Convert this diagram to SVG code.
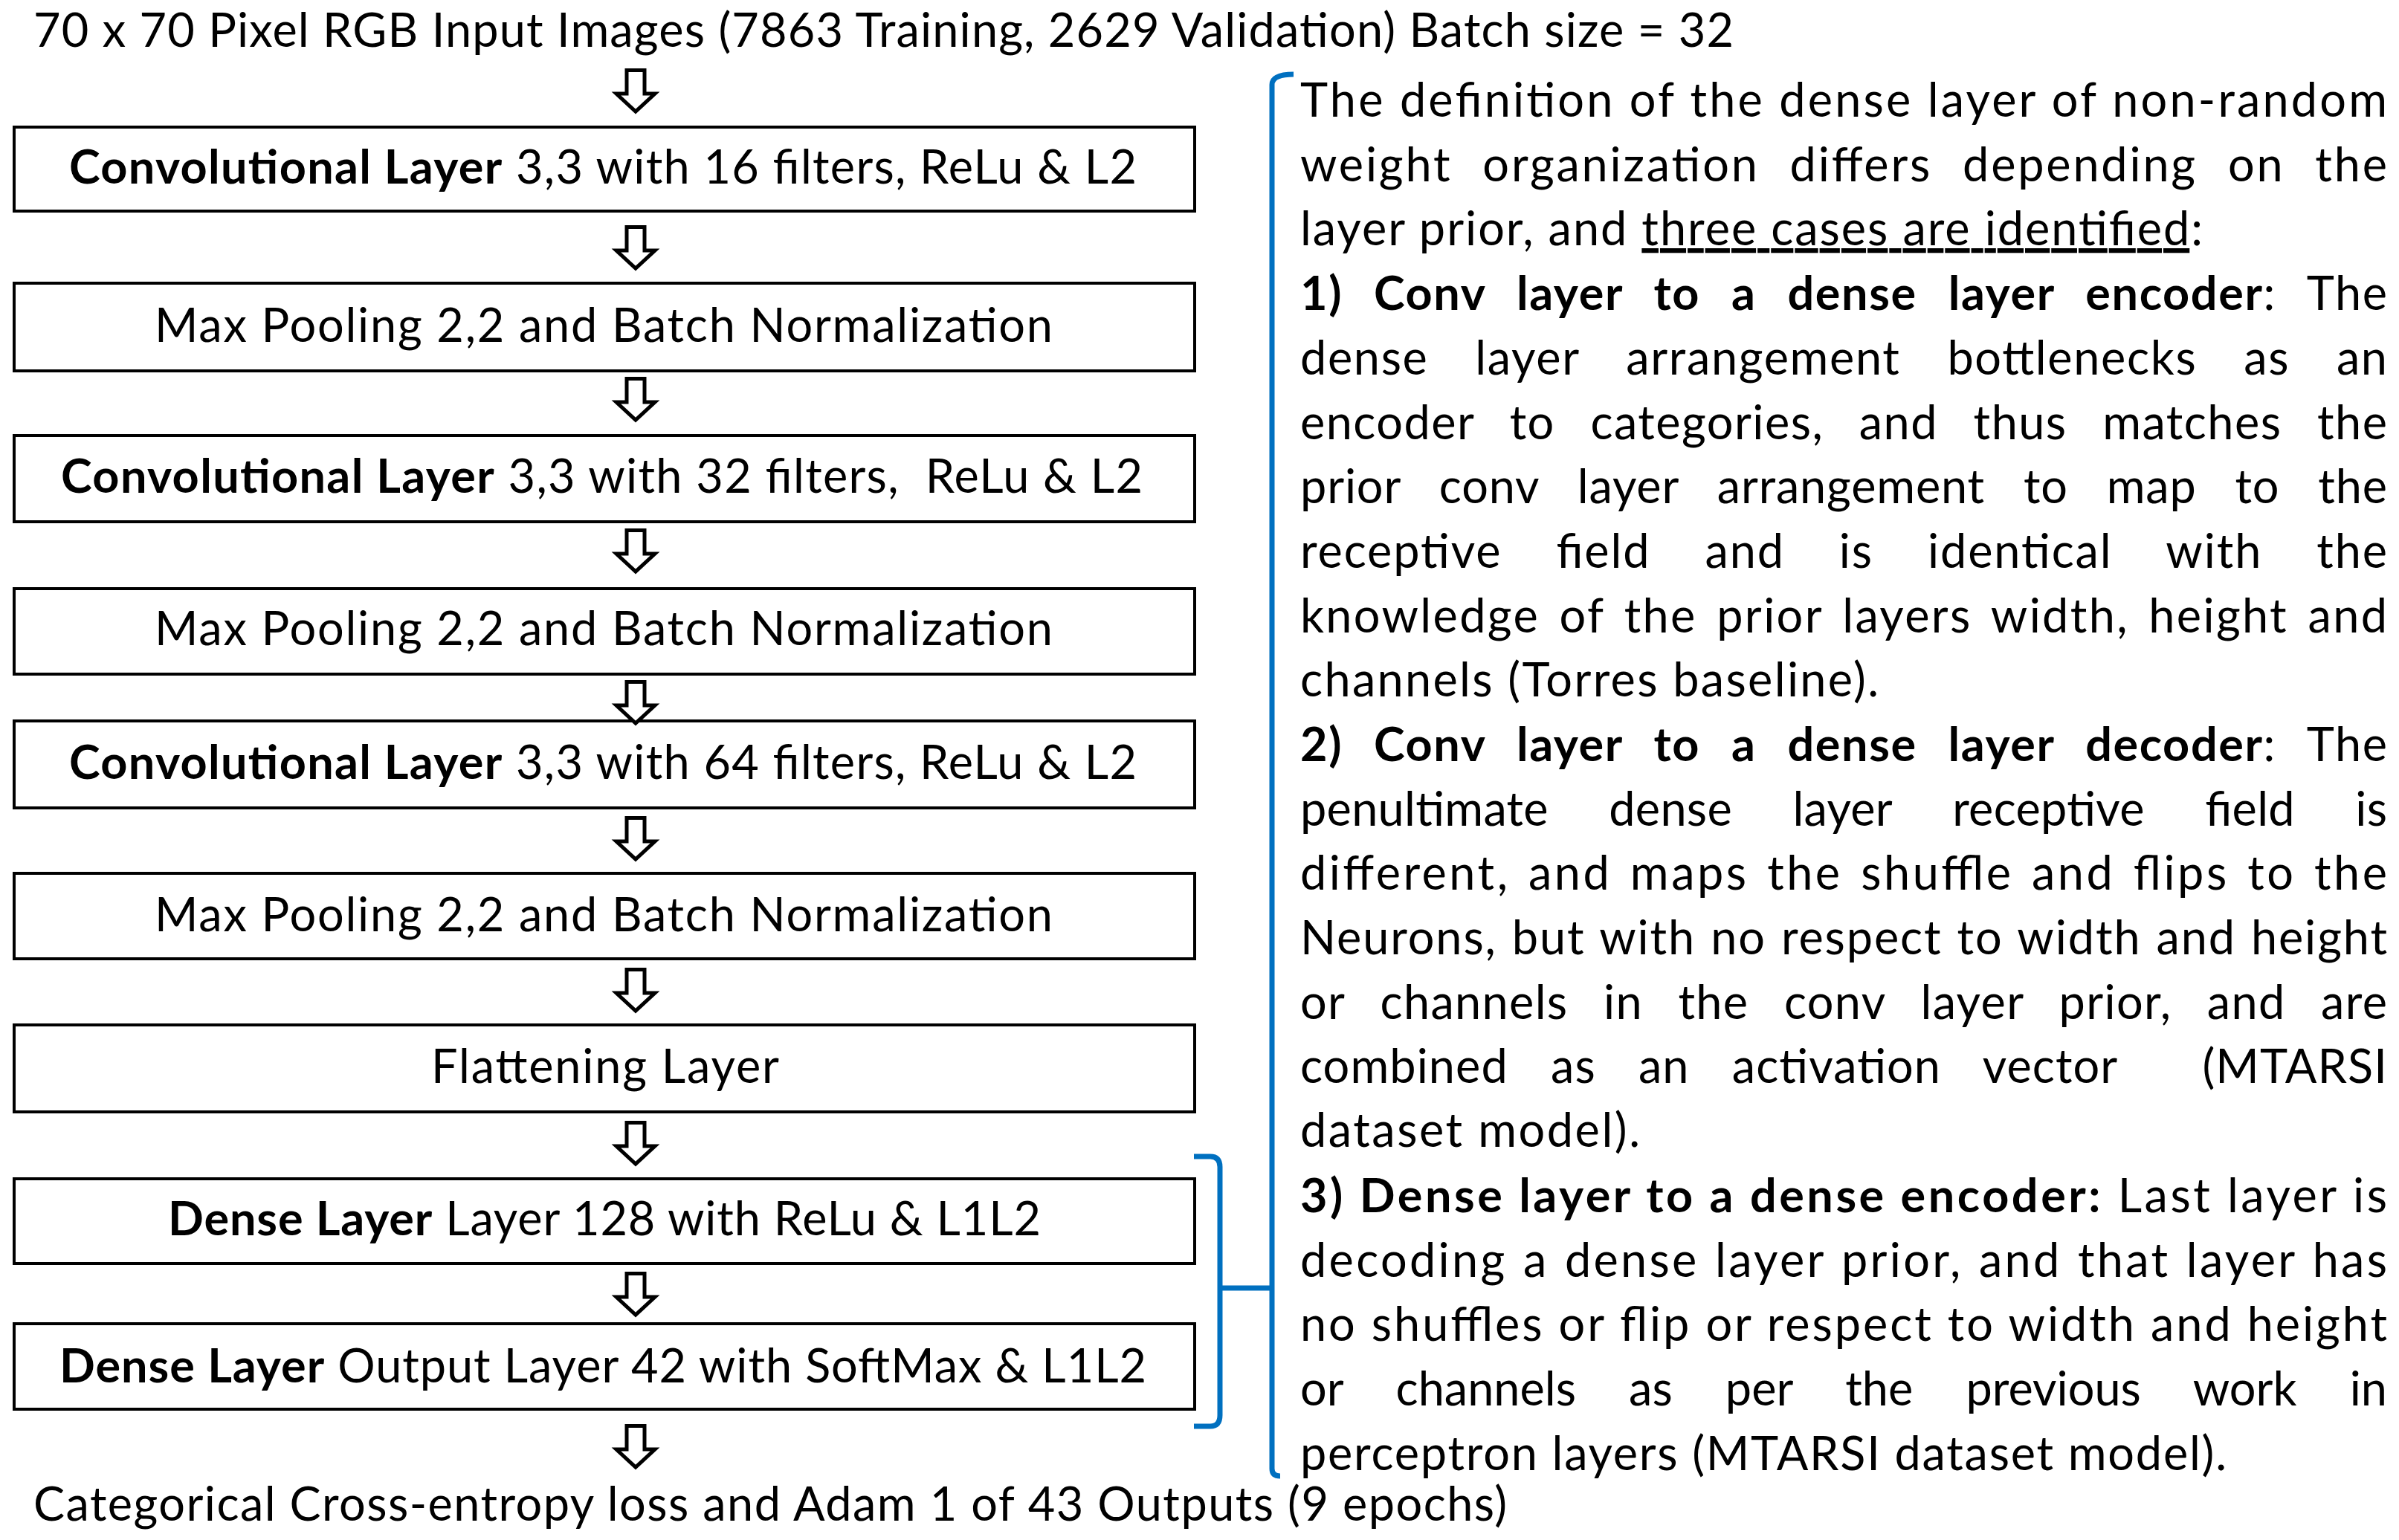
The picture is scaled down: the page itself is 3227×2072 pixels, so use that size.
<svg xmlns="http://www.w3.org/2000/svg" width="3227" height="2072" viewBox="0 0 3227 2072">
<style>
text{font-family:Lato,"Open Sans","DejaVu Sans",sans-serif;font-size:63px;fill:#000;}
.b{font-weight:bold;}
.box{fill:#fff;stroke:#000;stroke-width:4;}
.arr{fill:#fff;stroke:#000;stroke-width:5;stroke-linejoin:miter;}
.br{fill:none;stroke:#0070C0;stroke-width:7;stroke-linecap:butt;stroke-linejoin:round;}
.u{text-decoration:underline;}
</style>
<defs>
<path id="arrow" class="arr" d="M-12,2.5 H12 V34 H26 L0,58 L-26,34 H-12 Z"/>
</defs>
<rect width="3227" height="2072" fill="#fff"/>

<g id="title"><text x="45" y="63" textLength="2287" lengthAdjust="spacing">70 x 70 Pixel RGB Input Images (7863 Training, 2629 Validation) Batch size = 32</text></g>

<g id="n1"><rect class="box" x="19" y="171" width="1588" height="113"/><text x="93" y="247" textLength="1436" lengthAdjust="spacing"><tspan class="b">Convolutional Layer</tspan> 3,3 with 16 filters, ReLu &amp; L2</text></g>
<g id="n2"><rect class="box" x="19" y="381" width="1588" height="118"/><text x="208" y="460" textLength="1208" lengthAdjust="spacing">Max Pooling 2,2 and Batch Normalization</text></g>
<g id="n3"><rect class="box" x="19" y="586" width="1588" height="116"/><text x="82" y="663" textLength="1455" lengthAdjust="spacing" style="white-space:pre"><tspan class="b">Convolutional Layer</tspan> 3,3 with 32 filters,  ReLu &amp; L2</text></g>
<g id="n4"><rect class="box" x="19" y="792" width="1588" height="115"/><text x="208" y="868" textLength="1208" lengthAdjust="spacing">Max Pooling 2,2 and Batch Normalization</text></g>
<g id="n5"><rect class="box" x="19" y="970" width="1588" height="117"/><text x="93" y="1048" textLength="1436" lengthAdjust="spacing"><tspan class="b">Convolutional Layer</tspan> 3,3 with 64 filters, ReLu &amp; L2</text></g>
<g id="n6"><rect class="box" x="19" y="1175" width="1588" height="115"/><text x="208" y="1253" textLength="1208" lengthAdjust="spacing">Max Pooling 2,2 and Batch Normalization</text></g>
<g id="n7"><rect class="box" x="19" y="1379" width="1588" height="117"/><text x="580" y="1457" textLength="468" lengthAdjust="spacing">Flattening Layer</text></g>
<g id="n8"><rect class="box" x="19" y="1586" width="1588" height="114"/><text x="226" y="1662" textLength="1174" lengthAdjust="spacing"><tspan class="b">Dense Layer</tspan> Layer 128 with ReLu &amp; L1L2</text></g>
<g id="n9"><rect class="box" x="19" y="1781" width="1588" height="115"/><text x="80" y="1860" textLength="1462" lengthAdjust="spacing"><tspan class="b">Dense Layer</tspan> Output Layer 42 with SoftMax &amp; L1L2</text></g>

<g id="output"><text x="45" y="2046" textLength="1982" lengthAdjust="spacing">Categorical Cross-entropy loss and Adam 1 of 43 Outputs (9 epochs)</text></g>

<g id="connectors">
<use href="#arrow" x="855" y="92"/>
<use href="#arrow" x="855" y="303"/>
<use href="#arrow" x="855" y="507"/>
<use href="#arrow" x="855" y="711"/>
<use href="#arrow" x="855" y="915"/>
<use href="#arrow" x="855" y="1098"/>
<use href="#arrow" x="855" y="1302"/>
<use href="#arrow" x="855" y="1508"/>
<use href="#arrow" x="855" y="1711"/>
<use href="#arrow" x="855" y="1916"/>
<path class="br" d="M1740,100 Q1711,100 1711,114 V1976 Q1711,1986 1722,1986"/>
<path class="br" d="M1606,1556 H1628 Q1641,1556 1641,1570 V1904 Q1641,1919 1628,1919 H1606"/>
<path class="br" d="M1641,1733 H1711"/>
</g>

<g id="description">
<text x="1749" y="157" textLength="1462" lengthAdjust="spacing">The definition of the dense layer of non-random</text>
<text x="1749" y="244" textLength="1462" lengthAdjust="spacing" word-spacing="22">weight organization differs depending on the</text>
<text x="1749" y="330" textLength="1214" lengthAdjust="spacing">layer prior, and <tspan class="u">three cases are identified</tspan>:</text>
<text x="1749" y="417" textLength="1462" lengthAdjust="spacing" word-spacing="25"><tspan class="b">1) Conv layer to a dense layer encoder</tspan>: The</text>
<text x="1749" y="504" textLength="1462" lengthAdjust="spacing" word-spacing="45">dense layer arrangement bottlenecks as an</text>
<text x="1749" y="591" textLength="1462" lengthAdjust="spacing" word-spacing="30">encoder to categories, and thus matches the</text>
<text x="1749" y="677" textLength="1462" lengthAdjust="spacing" word-spacing="35">prior conv layer arrangement to map to the</text>
<text x="1749" y="764" textLength="1462" lengthAdjust="spacing" word-spacing="55">receptive field and is identical with the</text>
<text x="1749" y="851" textLength="1462" lengthAdjust="spacing" word-spacing="8">knowledge of the prior layers width, height and</text>
<text x="1749" y="937" textLength="778" lengthAdjust="spacing">channels (Torres baseline).</text>
<text x="1749" y="1024" textLength="1462" lengthAdjust="spacing" word-spacing="25"><tspan class="b">2) Conv layer to a dense layer decoder</tspan>: The</text>
<text x="1749" y="1111" textLength="1462" lengthAdjust="spacing" word-spacing="65">penultimate dense layer receptive field is</text>
<text x="1749" y="1197" textLength="1462" lengthAdjust="spacing" word-spacing="5">different, and maps the shuffle and flips to the</text>
<text x="1749" y="1284" textLength="1462" lengthAdjust="spacing" word-spacing="2">Neurons, but with no respect to width and height</text>
<text x="1749" y="1371" textLength="1462" lengthAdjust="spacing" word-spacing="30">or channels in the conv layer prior, and are</text>
<text x="1749" y="1457" textLength="1462" lengthAdjust="spacing" word-spacing="40" style="white-space:pre">combined as an activation vector  (MTARSI</text>
<text x="1749" y="1543" textLength="457" lengthAdjust="spacing">dataset model).</text>
<text x="1749" y="1631" textLength="1462" lengthAdjust="spacing"><tspan class="b">3) Dense layer to a dense encoder:</tspan> Last layer is</text>
<text x="1749" y="1718" textLength="1462" lengthAdjust="spacing" word-spacing="2">decoding a dense layer prior, and that layer has</text>
<text x="1749" y="1804" textLength="1462" lengthAdjust="spacing">no shuffles or flip or respect to width and height</text>
<text x="1749" y="1891" textLength="1462" lengthAdjust="spacing" word-spacing="55">or channels as per the previous work in</text>
<text x="1749" y="1978" textLength="1246" lengthAdjust="spacing">perceptron layers (MTARSI dataset model).</text>
</g>
</svg>
